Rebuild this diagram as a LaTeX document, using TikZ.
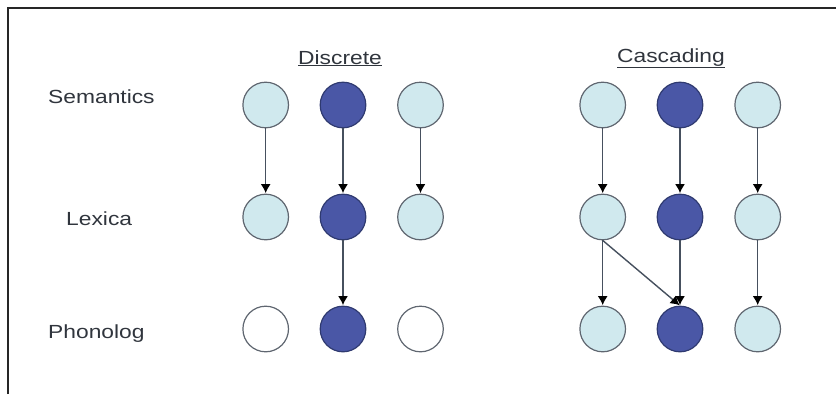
\documentclass[tikz,border=0pt]{standalone}
\usepackage{fontspec}
\setmainfont{Liberation Sans}[FakeStretch=1.2]
\usetikzlibrary{arrows.meta}
\definecolor{lightc}{HTML}{D0E9EE}
\definecolor{darkc}{HTML}{4A57A6}
\definecolor{edgec}{HTML}{5F6670}
\definecolor{darkedge}{HTML}{2F3A70}
\definecolor{linec}{HTML}{46505E}
\definecolor{txt}{HTML}{30353D}
\tikzset{
  unit/.style={circle, minimum size=45.6pt, inner sep=0pt, draw=edgec, line width=1.2pt},
  lite/.style={unit, fill=lightc},
  dark/.style={unit, fill=darkc, draw=darkedge},
  off/.style={unit, fill=white},
  lbl/.style={anchor=base west, inner sep=0pt, text=txt, font=\fontsize{19}{22}\selectfont},
  ttl/.style={anchor=base, inner sep=0pt, text=txt, font=\fontsize{19}{22}\selectfont},
  link/.style={draw=linec, line width=1.4pt, -{Latex[length=9pt,width=10pt,color=black]}, shorten >=0.5pt}
}
\begin{document}
\begin{tikzpicture}[x=1pt,y=-1pt]
\useasboundingbox (0,0) rectangle (836,394);
\draw[line width=1.6pt, draw=black!85] (8,394) -- (8,8) -- (836,8);
% labels
\node[lbl] (sem) at (48,103) {Semantics};
\node[lbl] (lex) at (66,225) {Lexica};
\node[lbl] (pho) at (48,338) {Phonolog};
\node[ttl] (t1) at (340,64) {\underline{Discrete}};
\node[ttl] (t2) at (671,62) {\underline{Cascading}};
% discrete
\node[lite] (ds1) at (265.7,105) {};
\node[dark] (ds2) at (343,105) {};
\node[lite] (ds3) at (420.5,105) {};
\node[lite] (dl1) at (265.7,217) {};
\node[dark] (dl2) at (343,217) {};
\node[lite] (dl3) at (420.5,217) {};
\node[off] (dp1) at (265.7,329) {};
\node[dark] (dp2) at (343,329) {};
\node[off] (dp3) at (420.5,329) {};
\draw[link] (ds1) -- (dl1);
\draw[link] (ds2) -- (dl2);
\draw[link] (ds3) -- (dl3);
\draw[link] (dl2) -- (dp2);
% cascading
\node[lite] (cs1) at (602.7,105) {};
\node[dark] (cs2) at (680,105) {};
\node[lite] (cs3) at (757.7,105) {};
\node[lite] (cl1) at (602.7,217) {};
\node[dark] (cl2) at (680,217) {};
\node[lite] (cl3) at (757.7,217) {};
\node[lite] (cp1) at (602.7,329) {};
\node[dark] (cp2) at (680,329) {};
\node[lite] (cp3) at (757.7,329) {};
\draw[link] (cs1) -- (cl1);
\draw[link] (cs2) -- (cl2);
\draw[link] (cs3) -- (cl3);
\draw[link] (cl1) -- (cp1);
\draw[link] (cl2) -- (cp2);
\draw[link] (cl3) -- (cp3);
\draw[link] (cl1.south) -- (cp2.north);
\end{tikzpicture}
\end{document}
